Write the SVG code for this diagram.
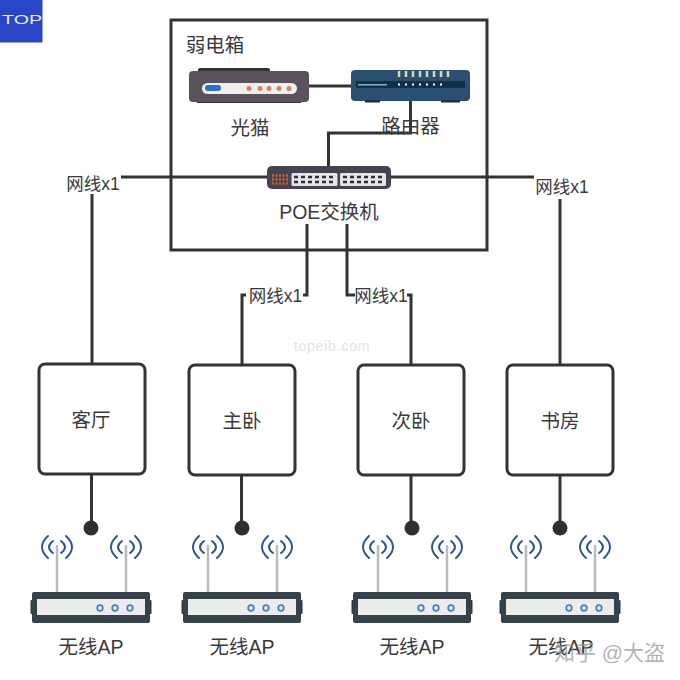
<svg xmlns="http://www.w3.org/2000/svg" xmlns:xlink="http://www.w3.org/1999/xlink" width="680" height="680" viewBox="0 0 680 680">
<style>
text{font-family:"Liberation Sans","Noto Sans CJK SC",sans-serif;fill:#3a3a3a;font-size:19.500px;text-anchor:middle}
.sm{font-size:17.500px}
.box{fill:#fff;stroke:#333;stroke-width:3}
.ln{fill:none;stroke:#333;stroke-width:3}
.wave{fill:none;stroke:#2f5597;stroke-width:2;stroke-linecap:round}
</style>
<defs>
<g id="ap">
<circle cx="0" cy="0" r="7.500" fill="#2f2f33"/>
<path class="wave" d="M-43 8Q-55 19-43 30M-38 13Q-46 19-38 25M-25 8Q-13 19-25 30M-30 13Q-22 19-30 25M26 8Q14 19 26 30M31 13Q23 19 31 25M44 8Q56 19 44 30M39 13Q47 19 39 25"/>
<path d="M-34 17V65M35 17V65" stroke="#bbb" stroke-width="2.500" fill="none"/>
<rect x="-60.500" y="72" width="4" height="14" rx="1" fill="#2f3a42"/>
<rect x="56.500" y="72" width="4" height="14" rx="1" fill="#2f3a42"/>
<rect x="-59" y="64" width="118" height="31" rx="2" fill="#36424a"/>
<rect x="-54" y="71" width="108" height="16" fill="#ececec"/>
<g fill="none" stroke="#4a7fc4" stroke-width="1.800"><circle cx="9" cy="80" r="2.800"/><circle cx="24" cy="80" r="2.800"/><circle cx="39" cy="80" r="2.800"/></g>
</g>
</defs>
<rect width="680" height="680" fill="#fff"/>
<g id="top-badge"><rect width="42.500" height="42.500" fill="#2a45c8"/><text x="2" y="24" textLength="40" lengthAdjust="spacingAndGlyphs" style="fill:#e8ecff;font-family:'Liberation Sans',sans-serif;font-size:12px;text-anchor:start">TOP</text></g>
<g id="cabinet"><rect x="171" y="20" width="316" height="230" fill="none" stroke="#333" stroke-width="3"/><text x="215" y="52">弱电箱</text></g>
<g id="connectors" class="ln">
<path class="ln" d="M309 86H352M410.500 101V133H328.500V166M121 177H267M391 177H534M92 194V364M560 199V364M307 224V295H303M347 224V295H355M246 295H242V364M407 295H411V364M91.500 475V528M241.500 475V528M411 475V528M560 475V528"/>
</g>
<g id="modem"><rect x="198" y="68" width="72" height="8" rx="2" fill="#33303a"/><rect x="196" y="98" width="106" height="5" rx="2" fill="#33303a"/><rect x="189" y="71" width="120" height="31" rx="4" fill="#5a525c"/><rect x="202" y="83" width="95" height="11" rx="5.500" fill="#efefef"/><rect x="205" y="85" width="16" height="6" rx="3" fill="#2d72c4"/><g fill="#d9825f"><circle cx="249" cy="88.500" r="2.500"/><circle cx="260" cy="88.500" r="2.500"/><circle cx="269" cy="88.500" r="2.500"/><circle cx="279" cy="88.500" r="2.500"/><circle cx="289" cy="88.500" r="2.500"/></g><text x="250" y="135">光猫</text></g>
<g id="router"><rect x="351" y="70" width="119" height="31" rx="4" fill="#2b4f70"/><rect x="365" y="100" width="15" height="2.500" fill="#1c2f42"/><rect x="441" y="100" width="19" height="2.500" fill="#1c2f42"/><rect x="356" y="81" width="109" height="7" fill="#10304a"/><rect x="358" y="84" width="29" height="1.500" fill="#7fb5b5"/><path d="M399 71v6M406 71v6M413 71v6M420 71v6M427 71v6M434 71v6M441 71v6M448 71v6" stroke="#d9d6b8" stroke-width="2.500"/><path d="M398 84.500h2m5 0h2m5 0h2m5 0h2m5 0h2m5 0h2m5 0h2" stroke="#fff" stroke-width="2"/><text x="410.500" y="133">路由器</text></g>
<g id="poe-switch"><rect x="267" y="166" width="124" height="23" rx="5" fill="#44434f"/><rect x="291.500" y="173" width="46" height="13" rx="1.500" fill="#e4e4e8"/><rect x="340" y="173" width="46" height="13" rx="1.500" fill="#e4e4e8"/><path d="M272 175.500h16M272 179.500h16M272 183.500h16" stroke="#c2603c" stroke-width="2.500" stroke-dasharray="2 1.500"/><path d="M294 177h42M294 182h42M343 177h42M343 182h42" stroke="#2d2d35" stroke-width="2.500" stroke-dasharray="4 3"/><text x="329" y="219">POE交换机</text></g>
<g id="label-1"><text class="sm" x="93" y="190">网线x1</text></g>
<g id="label-2"><text class="sm" x="562" y="193">网线x1</text></g>
<g id="label-3"><text class="sm" x="275.500" y="302">网线x1</text></g>
<g id="label-4"><text class="sm" x="381" y="302">网线x1</text></g>
<g id="room-1"><rect class="box" x="39" y="364" width="106" height="110" rx="6"/><text x="91" y="427">客厅</text></g>
<g id="room-2"><rect class="box" x="189" y="365" width="106" height="110" rx="6"/><text x="242" y="428">主卧</text></g>
<g id="room-3"><rect class="box" x="358" y="365" width="106" height="110" rx="6"/><text x="411" y="428">次卧</text></g>
<g id="room-4"><rect class="box" x="507" y="365" width="106" height="110" rx="6"/><text x="560" y="428">书房</text></g>
<g id="ap-1"><use xlink:href="#ap" href="#ap" x="91" y="528"/><text x="91" y="654">无线AP</text></g>
<g id="ap-2"><use xlink:href="#ap" href="#ap" x="242" y="528"/><text x="242" y="654">无线AP</text></g>
<g id="ap-3"><use xlink:href="#ap" href="#ap" x="412" y="528"/><text x="412" y="654">无线AP</text></g>
<g id="ap-4"><use xlink:href="#ap" href="#ap" x="560" y="528"/><text x="561" y="654">无线AP</text></g>
<text x="332" y="351" style="fill:#e4e4e4;font-size:14px;letter-spacing:.8px">topeib.com</text>
<text x="609.500" y="660" style="fill:#999;font-size:21px;fill-opacity:.75">知乎 @大盗</text>
</svg>
